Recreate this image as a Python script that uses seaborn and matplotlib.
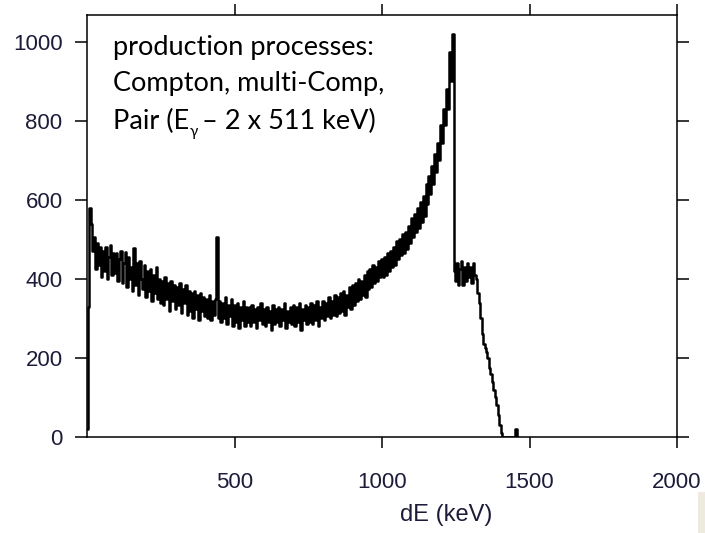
import matplotlib
matplotlib.use("Agg")
import matplotlib.pyplot as plt
import seaborn as sns
import pandas as pd
import numpy as np

# ---- data ----
bin_width_kev = 5
counts = [
    20, 330, 580, 540, 470, 505, 425, 490, 435, 480,      # 0-45
    405, 470, 420, 480, 400, 455, 485, 410, 465, 415,     # 50-95
    465, 395, 450, 470, 390, 440, 468, 380, 455, 400,     # 100-145
    430, 370, 478, 385, 440, 360, 445, 400, 375, 435,     # 150-195
    355, 420, 370, 425, 345, 410, 365, 430, 350, 400,     # 200-245
    340, 395, 335, 405, 350, 390, 320, 395, 345, 385,     # 250-295
    325, 380, 335, 390, 315, 375, 340, 385, 310, 370,     # 300-345
    320, 365, 300, 370, 325, 360, 295, 365, 320, 355,     # 350-395
    305, 350, 300, 360, 295, 345, 310, 350, 506, 300,     # 400-445
    345, 290, 340, 300, 355, 285, 335, 305, 350, 280,     # 450-495
    335, 290, 340, 275, 330, 295, 345, 280, 330, 290,     # 500-545
    330, 280, 335, 290, 325, 275, 330, 295, 340, 285,     # 550-595
    325, 280, 330, 290, 320, 270, 335, 285, 325, 290,     # 600-645
    330, 280, 325, 295, 340, 275, 320, 290, 330, 285,     # 650-695
    335, 280, 330, 290, 340, 270, 325, 295, 335, 285,     # 700-745
    330, 290, 340, 285, 335, 295, 345, 280, 330, 300,     # 750-795
    345, 295, 340, 305, 355, 300, 345, 310, 360, 305,     # 800-845
    355, 315, 365, 320, 370, 310, 360, 330, 380, 325,     # 850-895
    385, 335, 390, 345, 400, 350, 395, 360, 410, 355,     # 900-945
    420, 375, 425, 380, 435, 390, 430, 395, 445, 405,     # 950-995
    450, 405, 455, 410, 465, 420, 470, 430, 480, 435,     # 1000-1045
    495, 450, 500, 460, 515, 465, 520, 475, 535, 490,     # 1050-1095
    555, 505, 565, 520, 580, 530, 595, 545, 610, 560,     # 1100-1145
    640, 590, 660, 615, 685, 640, 715, 670, 745, 700,     # 1150-1195
    790, 745, 830, 790, 880, 830, 975, 900, 1020, 420,    # 1200-1245
    395, 440, 385, 425, 445, 385, 430, 395, 440, 405,     # 1250-1295
    430, 390, 440, 410, 400, 365, 340, 300, 260, 235,     # 1300-1345
    225, 215, 200, 175, 160, 140, 120, 100, 80, 55,       # 1350-1395
    30, 10, 0, 0, 0, 0, 0, 0, 0, 0,                       # 1400-1445
    0, 20, 0,                                             # 1450-1460
]
energy_kev = [i * bin_width_kev for i in range(len(counts))]

x_ticks = [500, 1000, 1500, 2000]
y_ticks = [0, 200, 400, 600, 800, 1000]
x_label = "dE (keV)"
note_line1 = "production processes:"
note_line2 = "Compton, multi-Comp,"
note_line3 = ["Pair (E", "\u03b3", "\u2013 2 x 511 keV)"]

df = pd.DataFrame({"dE": energy_kev, "counts": counts})

# ---- figure ----
sns.set_style("ticks")
plt.rcParams["font.family"] = ["Liberation Sans", "DejaVu Sans"]

fig = plt.figure(figsize=(7.05, 5.33), dpi=100)
ax = fig.add_axes([87 / 705, 1 - 437 / 533, 590 / 705, 422 / 533])

sns.lineplot(data=df, x="dE", y="counts", ax=ax, color="black",
             linewidth=1.8, estimator=None, drawstyle="steps-mid")

ax.set_xlim(0, 2000)
ax.set_ylim(0, 1068)
ax.set_xticks(x_ticks)
ax.set_yticks(y_ticks)
ax.set_ylabel("")
ax.set_xlabel(x_label, fontsize=17, color="#1c1c3a", va="center")
ax.xaxis.set_label_coords((446 - 87) / 590, (437 - 515) / 422)

for s in ax.spines.values():
    s.set_visible(True)
    s.set_color("black")
    s.set_linewidth(1.1)

ax.tick_params(axis="both", which="both", direction="out", color="black",
               width=1.1, labelsize=16, labelcolor="#1c1c3a",
               top=True, right=True, labeltop=False, labelright=False)
ax.tick_params(axis="y", length=8.6, pad=9)
ax.tick_params(axis="x", length=8, pad=17)

note_font = dict(fontsize=19.5, family=["Lato", "DejaVu Sans"], color="black",
                 va="center", ha="left")
x0 = 113 / 705
fig.text(x0, 1 - 47 / 533, note_line1, **note_font)
fig.text(x0, 1 - 84 / 533, note_line2, **note_font)

renderer = fig.canvas.get_renderer()
t1 = fig.text(x0, 1 - 121 / 533, note_line3[0], **note_font)
bb = t1.get_window_extent(renderer)
sub_font = dict(note_font)
sub_font["fontsize"] = 11
t2 = fig.text(bb.x1 / 705 + 0.5 / 705, 1 - 132 / 533, note_line3[1], **sub_font)
bb2 = t2.get_window_extent(renderer)
fig.text(bb2.x1 / 705 + 4 / 705, 1 - 121 / 533, note_line3[2], **note_font)

# small beige patch at bottom right of the original slide
fig.patches.append(matplotlib.patches.Rectangle(
    (698 / 705, 0), 7 / 705, 41 / 533, transform=fig.transFigure,
    facecolor="#eeeae0", edgecolor="none"))

fig.savefig("out.png", dpi=100)
